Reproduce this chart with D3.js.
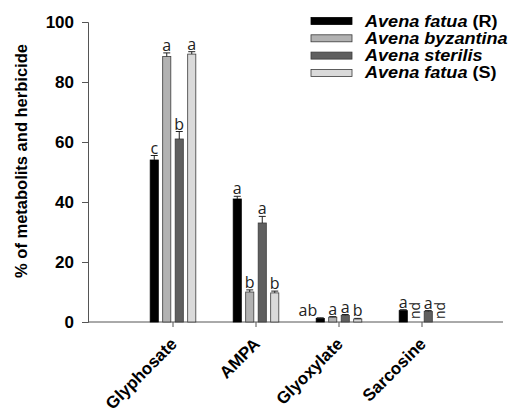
<!DOCTYPE html>
<html>
<head>
<meta charset="utf-8">
<script src="https://cdn.jsdelivr.net/npm/d3@7"></script>
<style>
  html, body { margin: 0; padding: 0; background: #fff; }
  svg { display: block; }
</style>
</head>
<body>
<svg id="chart" width="512" height="412"></svg>
<script>
const categories = ["Glyphosate", "AMPA", "Glyoxylate", "Sarcosine"];
const seriesNames = ["Avena fatua (R)", "Avena byzantina", "Avena sterilis", "Avena fatua (S)"];
const fatuaR     = [54.0, 41.0, 1.2, 3.8];
const byzantina  = [88.5, 10.0, 1.6, 0];
const sterilis   = [61.0, 33.0, 2.2, 3.5];
const fatuaS     = [89.3,  9.7, 1.0, 0];
const errFatuaR    = [1.5, 0.9, 0.2, 0.3];
const errByzantina = [1.2, 0.7, 0.2, 0];
const errSterilis  = [2.5, 2.2, 0.3, 0.3];
const errFatuaS    = [0.8, 0.6, 0.2, 0];
const lettersFatuaR    = ["c", "a", "ab", "a"];
const lettersByzantina = ["a", "b", "a", "nd"];
const lettersSterilis  = ["b", "a", "a", "a"];
const lettersFatuaS    = ["a", "b", "b", "nd"];
const yTicks = [0, 20, 40, 60, 80, 100];

const seriesValues = [fatuaR, byzantina, sterilis, fatuaS];
const seriesErrors = [errFatuaR, errByzantina, errSterilis, errFatuaS];
const seriesLetters = [lettersFatuaR, lettersByzantina, lettersSterilis, lettersFatuaS];
const colors = ["#000000", "#b2b2b2", "#5f5f5f", "#dadada"];
const strokes = ["#000000", "#3a3a3a", "#3a3a3a", "#3a3a3a"];

const svg = d3.select("#chart");
const x0 = 88, x1 = 503, yTop = 22, yBottom = 322;
const boldFont = "Liberation Sans, Arial, sans-serif";

const y = d3.scaleLinear().domain([0, 100]).range([yBottom, yTop]);
const xCat = d3.scalePoint().domain(categories).range([173, 422]);
const xSub = d3.scaleBand().domain(d3.range(4)).range([-25, 25]).paddingInner(0.35).paddingOuter(0.175);

// Y axis
const yAxis = d3.axisLeft(y).tickValues(yTicks).tickSize(6).tickPadding(8);
const gy = svg.append("g").attr("transform", `translate(${x0},0)`).call(yAxis);
gy.select(".domain").attr("stroke", "#555");
gy.selectAll(".tick line").attr("stroke", "#555");
gy.selectAll(".tick text")
  .attr("font-family", boldFont)
  .attr("font-weight", "bold").attr("font-size", 17).attr("fill", "#000");

// X axis
svg.append("line").attr("x1", x0).attr("x2", x1).attr("y1", yBottom).attr("y2", yBottom)
  .attr("stroke", "#555").attr("stroke-width", 1);
svg.selectAll(".xtick").data(categories).enter().append("line")
  .attr("x1", d => xCat(d)).attr("x2", d => xCat(d))
  .attr("y1", yBottom).attr("y2", yBottom + 5).attr("stroke", "#555");
svg.selectAll(".xlab").data(categories).enter().append("text")
  .attr("transform", d => `translate(${xCat(d) + 5},${yBottom + 23}) rotate(-45)`)
  .attr("text-anchor", "end")
  .attr("font-family", boldFont)
  .attr("font-weight", "bold").attr("font-size", 17)
  .text(d => d);

// Y label
svg.append("text")
  .attr("transform", `translate(27,161) rotate(-90)`)
  .attr("text-anchor", "middle")
  .attr("font-family", boldFont)
  .attr("font-weight", "bold").attr("font-size", 16.5)
  .text("% of metabolits and herbicide");

// Bars
const bw = xSub.bandwidth();
seriesValues.forEach((vals, s) => {
  const g = svg.append("g");
  categories.forEach((c, i) => {
    const v = vals[i];
    const bx = xCat(c) + xSub(s);
    const cx = bx + bw / 2;
    if (v > 0) {
      g.append("rect").attr("x", bx).attr("y", y(v))
        .attr("width", bw).attr("height", y(0) - y(v))
        .attr("fill", colors[s]).attr("stroke", strokes[s]).attr("stroke-width", 0.8);
      const e = seriesErrors[s][i];
      if (e > 0) {
        g.append("line").attr("x1", cx).attr("x2", cx).attr("y1", y(v)).attr("y2", y(v + e))
          .attr("stroke", "#222").attr("stroke-width", 1);
        g.append("line").attr("x1", cx - 3.5).attr("x2", cx + 3.5).attr("y1", y(v + e)).attr("y2", y(v + e))
          .attr("stroke", "#222").attr("stroke-width", 1);
      }
    }
    const lab = seriesLetters[s][i];
    if (lab === "nd") {
      g.append("text")
        .attr("transform", `translate(${cx + 4},${yBottom - 3}) rotate(-90)`)
        .attr("text-anchor", "start")
        .attr("font-family", "Open Sans, sans-serif").attr("font-size", 14)
        .attr("fill", "#222")
        .text(lab);
    } else {
      const top = y(v + seriesErrors[s][i]) - 2;
      g.append("text")
        .attr("x", lab.length > 1 ? bx + 1 : cx)
        .attr("y", top)
        .attr("text-anchor", lab.length > 1 ? "end" : "middle")
        .attr("font-family", "Open Sans, sans-serif").attr("font-size", 16)
        .attr("fill", "#222")
        .text(lab);
    }
  });
});

// Legend
const legend = svg.append("g");
seriesNames.forEach((name, s) => {
  const ly = 21 + s * 17.3;
  legend.append("rect").attr("x", 311).attr("y", ly - 3.5).attr("width", 41).attr("height", 7)
    .attr("fill", colors[s]).attr("stroke", strokes[s]).attr("stroke-width", 0.8);
  const t = legend.append("text")
    .attr("transform", `translate(365,${ly + 5.5}) scale(1.13,1)`)
    .attr("font-family", boldFont)
    .attr("font-weight", "bold").attr("font-size", 16);
  const m = name.match(/^(.*?)(\s\(.\))?$/);
  t.append("tspan").attr("font-style", "italic").text(m[1]);
  if (m[2]) t.append("tspan").text(m[2]);
});
</script>
</body>
</html>
